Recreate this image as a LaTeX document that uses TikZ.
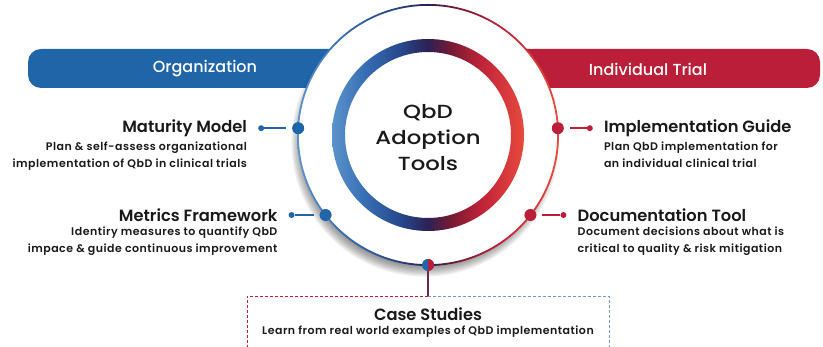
\documentclass[tikz,border=0pt]{standalone}
\usepackage{fontspec}
\setmainfont{Poppins}[BoldFont={Poppins SemiBold}]
\newfontfamily\hubfont{Poppins Medium}[FakeStretch=1.2]
\newfontfamily\barfont{Poppins Medium}
\newfontfamily\notefont{Poppins SemiBold}[LetterSpace=4.5]
\usetikzlibrary{calc, positioning}

\definecolor{orgblue}{RGB}{31,101,168}
\definecolor{trialred}{RGB}{186,30,56}
\definecolor{stemcol}{RGB}{110,40,70}
\definecolor{inkcol}{RGB}{25,25,25}
\definecolor{casedash}{RGB}{122,150,195}

% blue -> navy -> red sweep used for the hub ring and rim
\pgfdeclarehorizontalshading{hubsweep}{100bp}{
  rgb(0bp)=(0.36,0.58,0.80); rgb(25bp)=(0.36,0.58,0.80);
  rgb(33bp)=(0.22,0.44,0.71); rgb(43bp)=(0.15,0.28,0.55);
  rgb(50bp)=(0.17,0.13,0.33); rgb(56bp)=(0.47,0.10,0.20);
  rgb(64bp)=(0.75,0.14,0.22); rgb(75bp)=(0.91,0.29,0.24);
  rgb(100bp)=(0.91,0.29,0.24)}

\tikzset{
  bar/.style={rounded corners=13pt},
  bartext/.style={text=white, font=\barfont\fontsize{16}{18}\selectfont},
  bigdot/.style={circle, fill=#1, minimum size=12pt, inner sep=0pt, outer sep=0pt},
  smalldot/.style={circle, fill=#1, minimum size=6pt, inner sep=0pt, outer sep=0pt},
  tooltitle/.style={font=\bfseries\fontsize{16.3}{18}\selectfont, text=inkcol, inner sep=0pt},
  tooltext/.style={font=\notefont\fontsize{11}{16.5}\selectfont, text=inkcol, inner sep=0pt},
  link/.style={draw=#1, line width=1.6pt, shorten >=6pt},
}

\begin{document}
\begin{tikzpicture}[x=1pt, y=1pt]
\useasboundingbox (0,0) rectangle (823,347);

% the two scope bars, partly hidden by the hub
\fill[orgblue, bar] (28,259) rectangle (440,298);
\fill[trialred, bar] (420,259) rectangle (820,298);
\node[bartext] (org) at (205,278) {Organization};
\node[bartext] (trial) at (648,278) {Individual Trial};

% hub with soft shadow
\coordinate (c) at (428,212);
\foreach \s in {1,...,12}
  \fill[black, opacity=0.06] ($(c)+(-3,-8)$) circle ({118+\s*1.3});
\node[circle, fill=white, minimum size=260pt, inner sep=0pt, outer sep=0pt] (hub) at (c) {};
\shade[shading=hubsweep, even odd rule] (c) circle (131) (c) circle (129.2);
\shade[shading=hubsweep, even odd rule] (c) circle (96) (c) circle (83);
\node[font=\hubfont\fontsize{19}{26}\selectfont, align=center, text=inkcol] (hubtext) at (428,209)
  {QbD\\Adoption\\Tools};

% organization tools
\node[bigdot=orgblue] (mmdot) at (hub.177) {};
\node[smalldot=orgblue, left=28pt of mmdot] (mmend) {};
\draw[link=orgblue] (mmend) -- (mmdot);
\node[tooltitle, left=11pt of mmend] (mm) {Maturity Model};
\node[tooltext, align=right, below=5pt of mm.south east, anchor=north east] (mmtext)
  {Plan \& self-assess organizational\\implementation of QbD in clinical trials};

\node[bigdot=orgblue] (mfdot) at (hub.218) {};
\node[smalldot=orgblue, left=25pt of mfdot] (mfend) {};
\draw[link=orgblue] (mfend) -- (mfdot);
\node[tooltitle, left=11pt of mfend] (mf) {Metrics Framework};
\node[tooltext, align=right, below=5pt of mf.south east, anchor=north east] (mftext)
  {Identiry measures to quantify QbD\\impace \& guide continuous improvement};

% individual trial tools
\node[bigdot=trialred] (igdot) at (hub.3.5) {};
\node[smalldot=trialred, right=23pt of igdot] (igend) {};
\draw[link=trialred] (igend) -- (igdot);
\node[tooltitle, right=11pt of igend] (ig) {Implementation Guide};
\node[tooltext, align=left, below=5pt of ig.south west, anchor=north west] (igtext)
  {Plan QbD implementation for\\an individual clinical trial};

\node[bigdot=trialred] (dtdot) at (hub.-38) {};
\node[smalldot=trialred, right=24pt of dtdot] (dtend) {};
\draw[link=trialred] (dtend) -- (dtdot);
\node[tooltitle, right=11pt of dtend] (dt) {Documentation Tool};
\node[tooltext, align=left, below=5pt of dt.south west, anchor=north west] (dttext)
  {Document decisions about what is\\critical to quality \& risk mitigation};

% case studies below the hub
\node[bigdot=orgblue, path picture={\fill[trialred] (path picture bounding box.north)
  rectangle (path picture bounding box.south east);}] (csdot) at (hub.-90) {};
\node[minimum width=362pt, minimum height=62pt, inner sep=0pt] (casebox) at (428,20) {};
\draw[stemcol, line width=1.6pt] (csdot) -- (casebox.north);
\draw[trialred, dash pattern=on 3pt off 2pt] (casebox.north) -- (casebox.north west) -- (casebox.south west);
\draw[casedash, dash pattern=on 3pt off 2pt] (casebox.north) -- (casebox.north east) -- (casebox.south east);
\node[tooltitle] (cs) at (428,33) {Case Studies};
\node[tooltext] (cstext) at (428,15) {Learn from real world examples of QbD implementation};
\end{tikzpicture}
\end{document}
